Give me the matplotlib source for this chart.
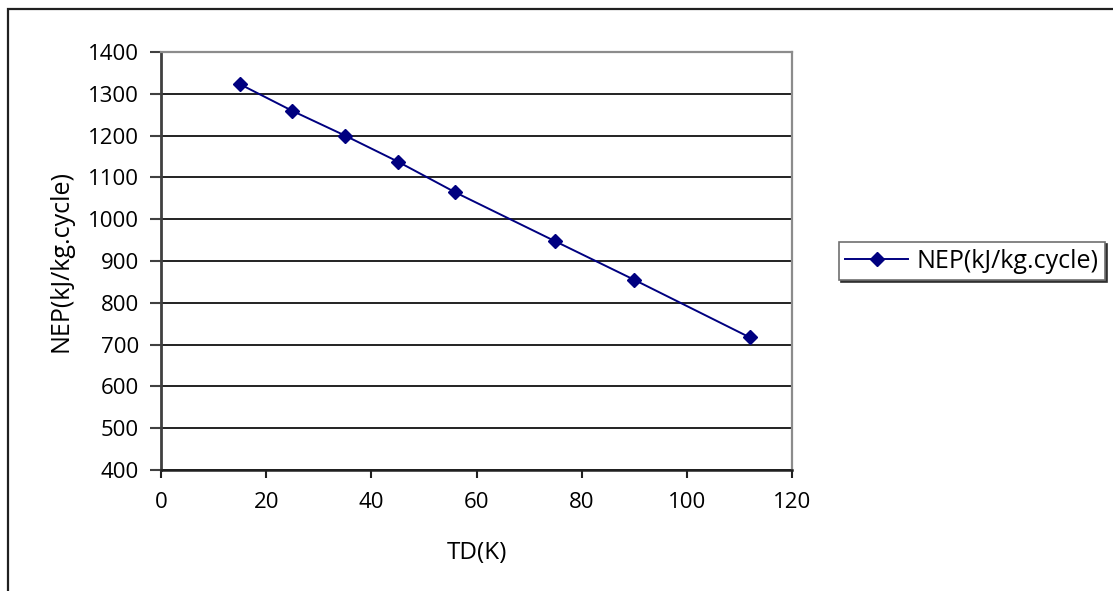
import matplotlib.pyplot as plt
from matplotlib.patches import Rectangle

# data
td = [15, 25, 35, 45, 56, 75, 90, 112]
nep = [1323, 1259, 1200, 1138, 1064, 947, 855, 717]
x_ticks = [0, 20, 40, 60, 80, 100, 120]
y_ticks = [400, 500, 600, 700, 800, 900, 1000, 1100, 1200, 1300, 1400]

plt.rcParams['font.family'] = ['Open Sans', 'DejaVu Sans']

W, H = 1113, 591
fig = plt.figure(figsize=(W / 100, H / 100), dpi=100)
ax = fig.add_axes([161 / W, 1 - 470 / H, (792 - 161) / W, (470 - 52) / H])

# outer chart frame (only left and top edges visible in the crop)
fig.patches.append(Rectangle((8 / W, -0.1), 1.2, 1.1 - 9 / H, transform=fig.transFigure,
                             fill=False, edgecolor='#202020', linewidth=1.6, clip_on=False))

ax.plot(td, nep, color='#000080', linewidth=1.4, marker='D', markersize=7.5,
        markerfacecolor='#000080', markeredgecolor='#000080', label='NEP(kJ/kg.cycle)')

ax.set_xlim(0, 120)
ax.set_ylim(400, 1400)
ax.set_xticks(x_ticks)
ax.set_yticks(y_ticks)
ax.yaxis.grid(True, color='#111111', linewidth=1.3)
ax.set_axisbelow(True)

for side in ['top', 'right']:
    ax.spines[side].set_color('#8c8c8c')
    ax.spines[side].set_linewidth(1.6)
ax.spines['left'].set_color('#404040')
ax.spines['left'].set_linewidth(2)
ax.spines['bottom'].set_color('#202020')
ax.spines['bottom'].set_linewidth(1.8)

ax.tick_params(axis='y', direction='out', length=8, width=1.5, color='#404040',
               pad=8, labelsize=16)
ax.tick_params(axis='x', direction='out', length=6, width=1.5, color='#202020',
               pad=10, labelsize=16)

ax.set_xlabel('TD(K)', fontsize=17.5, labelpad=20)
ax.set_ylabel('NEP(kJ/kg.cycle)', fontsize=18, labelpad=10)

leg = ax.legend(loc='center left', bbox_to_anchor=(839 / W, 1 - 261 / H),
                bbox_transform=fig.transFigure, fontsize=18, frameon=True,
                fancybox=False, shadow={'color': '#303030', 'alpha': 1, 'ox': 1.5, 'oy': -1.5},
                borderpad=0.25, handlelength=2.5, handletextpad=0.35, borderaxespad=0)
leg.get_frame().set_edgecolor('#707070')
leg.get_frame().set_linewidth(1.2)

fig.savefig('out.png', dpi=100)
